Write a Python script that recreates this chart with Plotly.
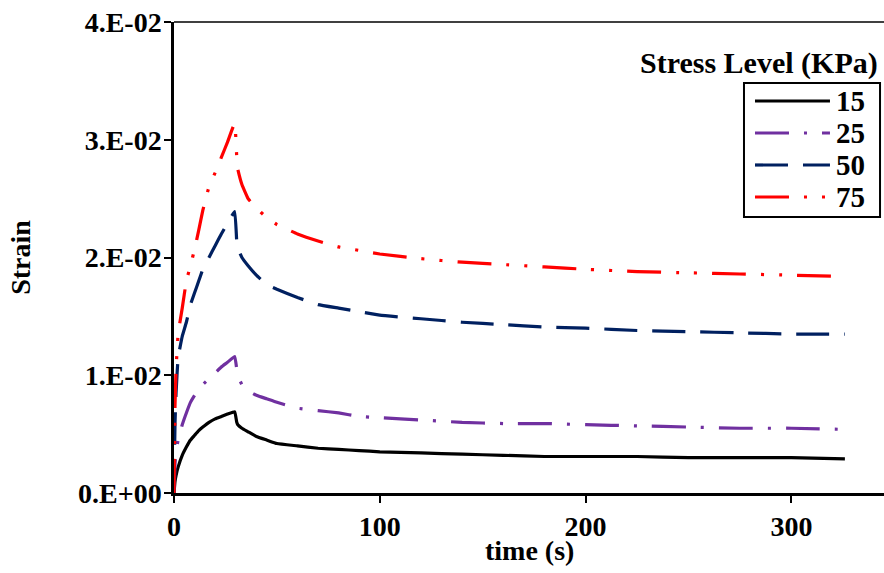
import plotly.graph_objects as go

time_s = [0, 0.5, 1, 2, 4, 6, 8, 10, 12, 14, 17, 20, 23, 26, 29.5, 30.5, 31, 33, 36, 40, 45, 50,
          60, 70, 80, 90, 100, 120, 140, 160, 180, 200, 225, 250, 275, 300, 326]

strain_15 = [0, 0.0010, 0.0015, 0.0022, 0.0032, 0.0039, 0.0045, 0.0049, 0.0053, 0.0056, 0.0060,
             0.0063, 0.0065, 0.0067, 0.0069, 0.0060, 0.0058, 0.0055, 0.0052, 0.0048, 0.0045, 0.0042,
             0.0040, 0.0038, 0.0037, 0.0036, 0.0035, 0.0034, 0.0033, 0.0032, 0.0031, 0.0031, 0.0031,
             0.0030, 0.0030, 0.0030, 0.0029]
strain_25 = [0, 0.0025, 0.0035, 0.0045, 0.0058, 0.0068, 0.0077, 0.0083, 0.0088, 0.0092, 0.0097,
             0.0102, 0.0107, 0.0111, 0.0116, 0.0105, 0.0100, 0.0092, 0.0087, 0.0083, 0.0080, 0.0077,
             0.0072, 0.0070, 0.0068, 0.0065, 0.0064, 0.0062, 0.0060, 0.0059, 0.0059, 0.0058, 0.0057,
             0.0056, 0.0055, 0.0055, 0.0054]
strain_50 = [0, 0.0060, 0.0085, 0.0115, 0.0133, 0.0145, 0.0160, 0.0170, 0.0180, 0.0190, 0.0200,
             0.0210, 0.0220, 0.0229, 0.0239, 0.0213, 0.0208, 0.0200, 0.0193, 0.0185, 0.0177, 0.0173,
             0.0166, 0.0160, 0.0157, 0.0154, 0.0151, 0.0148, 0.0145, 0.0143, 0.0141, 0.0140, 0.0138,
             0.0137, 0.0136, 0.0135, 0.0135]
strain_75 = [0, 0.0075, 0.0105, 0.0135, 0.0157, 0.0180, 0.0193, 0.0207, 0.0223, 0.0240, 0.0260,
             0.0272, 0.0285, 0.0298, 0.0314, 0.0285, 0.0275, 0.0262, 0.0250, 0.0242, 0.0234, 0.0228,
             0.0220, 0.0214, 0.0209, 0.0206, 0.0203, 0.0199, 0.0196, 0.0194, 0.0192, 0.0190, 0.0188,
             0.0187, 0.0186, 0.0185, 0.0184]

series_names = ["15", "25", "50", "75"]
legend_title = "Stress Level (KPa)"
x_title = "time (s)"
y_title = "Strain"
y_tickvals = [0, 0.01, 0.02, 0.03, 0.04]
y_ticktext = ["0.E+00", "1.E-02", "2.E-02", "3.E-02", "4.E-02"]
x_tickvals = [0, 100, 200, 300]

FONT = "Liberation Serif"
styles = [
    ("black", "solid"),
    ("#7030A0", "34px,15px,3px,15px"),
    ("#002060", "33px,15px"),
    ("#FF0000", "34px,15px,3px,15px,3px,15px"),
]

fig = go.Figure()
for name, ys, (col, dash) in zip(series_names, [strain_15, strain_25, strain_50, strain_75], styles):
    fig.add_trace(go.Scatter(x=time_s, y=ys, mode="lines", name=name, showlegend=False,
                             line=dict(color=col, width=3.2, dash=dash, shape="spline", smoothing=0.3)))

# hand-built legend box (long line samples, as in the reference)
shapes = [dict(type="line", xref="paper", yref="paper", x0=0, x1=1, y0=1, y1=1,
               line=dict(color="black", width=1.5)),
          dict(type="rect", xref="paper", yref="paper", x0=0.8028, x1=0.9944, y0=0.586, y1=0.8705,
               line=dict(color="black", width=2), fillcolor="white")]
annotations = [dict(text=legend_title, xref="paper", yref="paper", x=0.994, y=0.913,
                    xanchor="right", yanchor="middle", showarrow=False,
                    font=dict(family=FONT, size=30, color="black", weight="bold")),
               dict(text=x_title, xref="paper", yref="paper", x=0.5, y=-0.123,
                    xanchor="center", yanchor="middle", showarrow=False,
                    font=dict(family=FONT, size=28, color="black", weight="bold"))]
row_y = [0.8323, 0.7643, 0.6964, 0.6285]
for name, (col, dash), ry in zip(series_names, styles, row_y):
    shapes.append(dict(type="line", xref="paper", yref="paper", x0=0.8183, x1=0.9239, y0=ry, y1=ry,
                       line=dict(color=col, width=3.2, dash=dash)))
    annotations.append(dict(text=name, xref="paper", yref="paper", x=0.929, y=ry,
                            xanchor="left", yanchor="middle", showarrow=False,
                            font=dict(family=FONT, size=29, color="black", weight="bold")))

fig.update_layout(
    width=884, height=573,
    margin=dict(l=174, r=0, t=22, b=80),
    plot_bgcolor="white", paper_bgcolor="white",
    font=dict(family=FONT, color="black"),
    showlegend=False,
    xaxis=dict(range=[0, 345], tickvals=x_tickvals, ticks="outside", ticklen=7, tickwidth=2,
               tickcolor="black", showline=True, linecolor="black", linewidth=2.5,
               showgrid=False, zeroline=False,
               tickfont=dict(family=FONT, size=28, color="black", weight="bold")),
    yaxis=dict(range=[0, 0.04], tickvals=y_tickvals, ticktext=y_ticktext, ticks="outside",
               ticklen=7, tickwidth=2, tickcolor="black", showline=True, linecolor="black",
               linewidth=2.5, showgrid=False, zeroline=False, ticklabelstandoff=-3,
               tickfont=dict(family=FONT, size=28, color="black", weight="bold"),
               title=dict(text=y_title, standoff=40,
                          font=dict(family=FONT, size=28, color="black", weight="bold"))),
    shapes=shapes,
    annotations=annotations,
)

fig.write_html("out.html", post_script="document.body.style.margin='0';",
               config={"displayModeBar": False})
